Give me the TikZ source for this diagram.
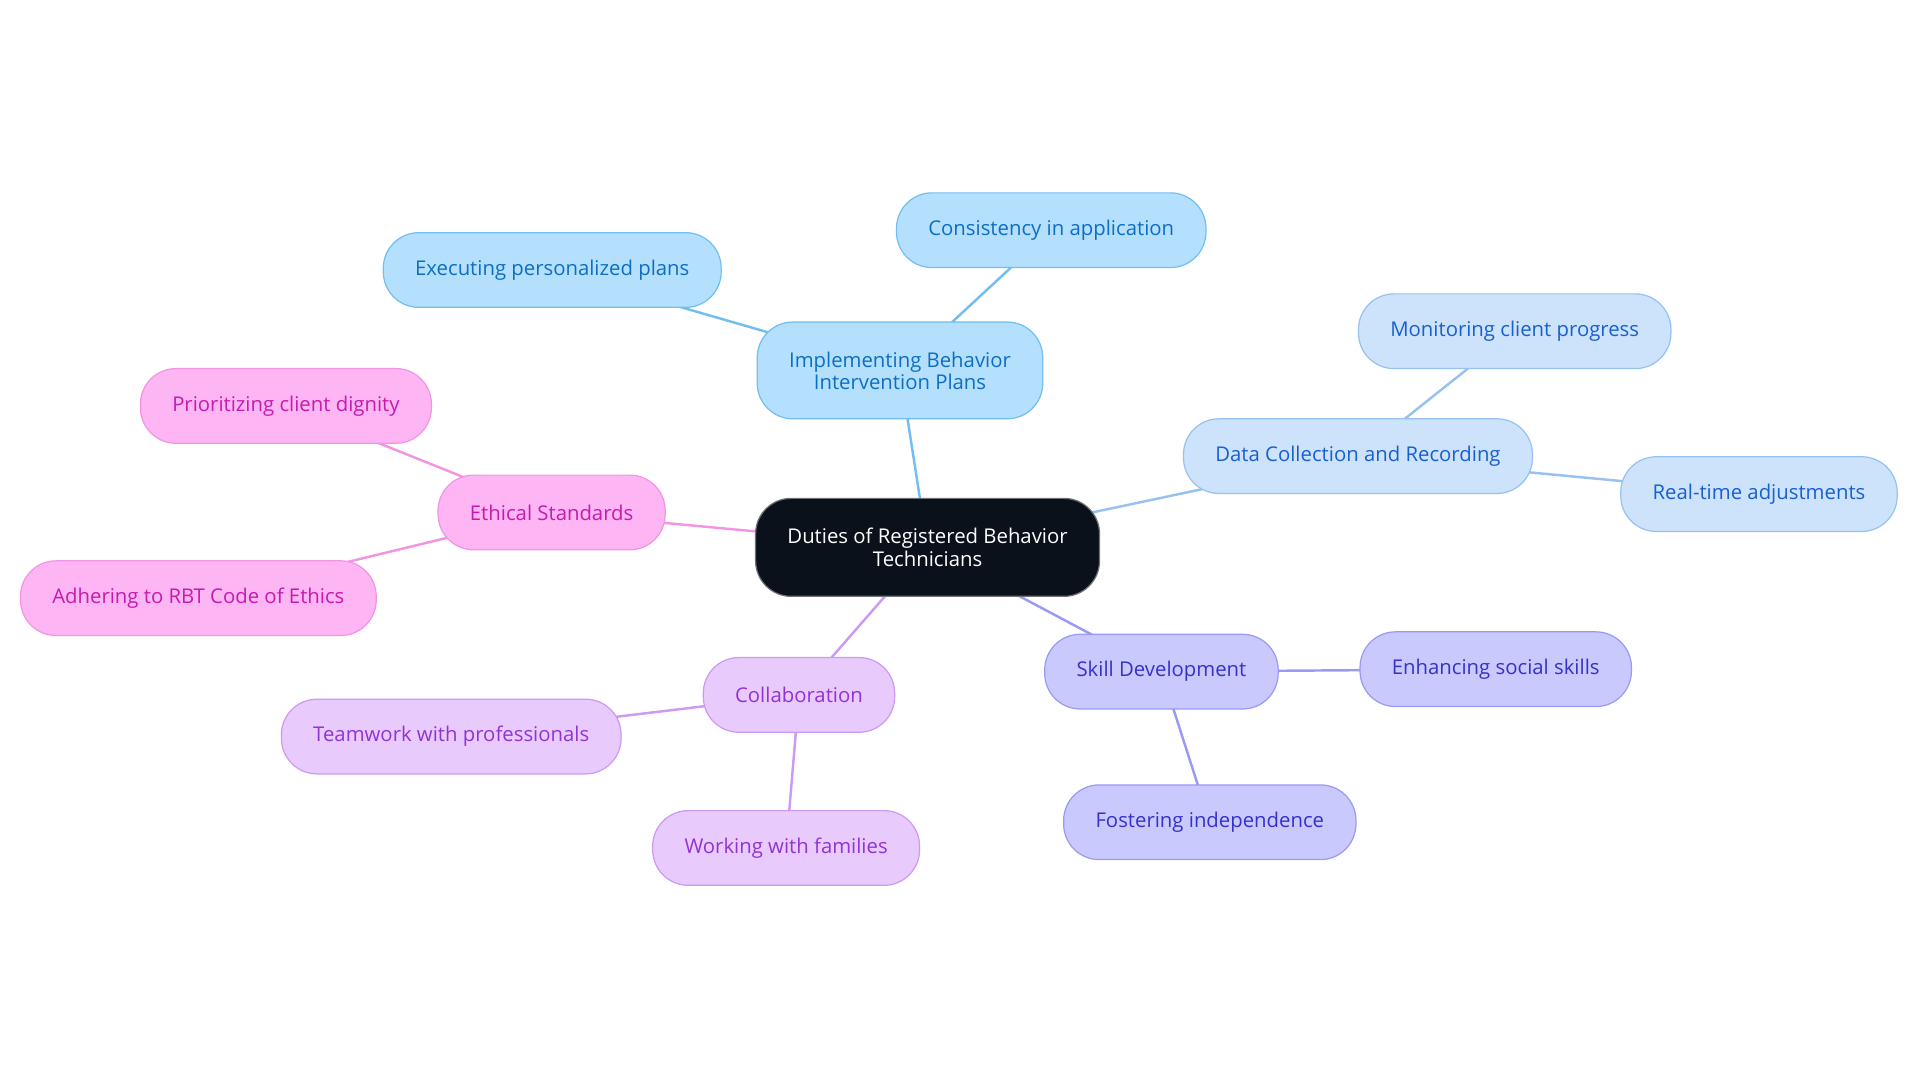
\documentclass[tikz,border=0pt]{standalone}
\usepackage{fontspec}
\setmainfont{Open Sans}
\usetikzlibrary{backgrounds}
\definecolor{rootfill}{HTML}{0B111B}
\definecolor{ibpfill}{HTML}{B5E0FD}
\definecolor{ibpline}{HTML}{72BEF2}
\definecolor{ibptext}{HTML}{0D6FC4}
\definecolor{datfill}{HTML}{CCE3FB}
\definecolor{datline}{HTML}{97C2F0}
\definecolor{dattext}{HTML}{1A5FD2}
\definecolor{skfill}{HTML}{C9C9FD}
\definecolor{skline}{HTML}{9A9AF3}
\definecolor{sktext}{HTML}{3532CC}
\definecolor{colfill}{HTML}{E8CAFD}
\definecolor{colline}{HTML}{CD9AF3}
\definecolor{coltext}{HTML}{9233D6}
\definecolor{ethfill}{HTML}{FDB5F3}
\definecolor{ethline}{HTML}{F195E3}
\definecolor{ethtext}{HTML}{C51BAE}

\begin{document}
\begin{tikzpicture}[x=1pt,y=-1pt,
		bubble/.style={draw, line width=1pt, rounded corners=29pt, minimum height=61pt,
			inner xsep=26pt, font=\fontsize{16.6}{18}\selectfont, align=center},
		ibp/.style={bubble, fill=ibpfill, draw=ibpline, text=ibptext},
		dat/.style={bubble, fill=datfill, draw=datline, text=dattext},
		sk/.style={bubble, fill=skfill, draw=skline, text=sktext},
		col/.style={bubble, fill=colfill, draw=colline, text=coltext},
		eth/.style={bubble, fill=ethfill, draw=ethline, text=ethtext},
		link/.style={line width=2pt}]
	\useasboundingbox (0,0) rectangle (1568,884);
	
	\node[bubble, fill=rootfill, draw=rootfill!60, text=white, minimum height=80pt, font=\fontsize{16.6}{19}\selectfont] (root) at (757.5,447) {Duties of Registered Behavior\\Technicians};
	
	\node[ibp, minimum height=79pt] (ibp) at (735,302.5) {Implementing Behavior\\Intervention Plans};
	\node[ibp] (cons) at (858.5,188) {Consistency in application};
	\node[ibp] (exec) at (451,220.5) {Executing personalized plans};
	
	\node[dat] (dat) at (1109,372.5) {Data Collection and Recording};
	\node[dat] (mon) at (1237,270.5) {Monitoring client progress};
	\node[dat] (rta) at (1436.5,403.5) {Real-time adjustments};
	
	\node[sk] (sk) at (948.5,548.5) {Skill Development};
	\node[sk] (soc) at (1221.5,546.5) {Enhancing social skills};
	\node[sk] (ind) at (988,671.5) {Fostering independence};
	
	\node[col] (col) at (652.5,567.5) {Collaboration};
	\node[col] (team) at (368.5,601.5) {Teamwork with professionals};
	\node[col] (fam) at (642,692.5) {Working with families};
	
	\node[eth] (eth) at (450.5,418.5) {Ethical Standards};
	\node[eth] (dig) at (233.5,331.5) {Prioritizing client dignity};
	\node[eth] (rbt) at (162,488.5) {Adhering to RBT Code of Ethics};
	
	\begin{scope}[on background layer]
		\draw[link, ibpline] (root.center) -- (ibp.center);
		\draw[link, ibpline] (ibp.center) -- (cons.center);
		\draw[link, ibpline] (ibp.center) -- (exec.center);
		\draw[link, datline] (root.center) -- (dat.center);
		\draw[link, datline] (dat.center) -- (mon.center);
		\draw[link, datline] (dat.center) -- (rta.center);
		\draw[link, skline] (root.center) -- (sk.center);
		\draw[link, skline] (sk.center) -- (soc.center);
		\draw[link, skline] (sk.center) -- (ind.center);
		\draw[link, colline] (root.center) -- (col.center);
		\draw[link, colline] (col.center) -- (team.center);
		\draw[link, colline] (col.center) -- (fam.center);
		\draw[link, ethline] (root.center) -- (eth.center);
		\draw[link, ethline] (eth.center) -- (dig.center);
		\draw[link, ethline] (eth.center) -- (rbt.center);
	\end{scope}
\end{tikzpicture}
\end{document}
